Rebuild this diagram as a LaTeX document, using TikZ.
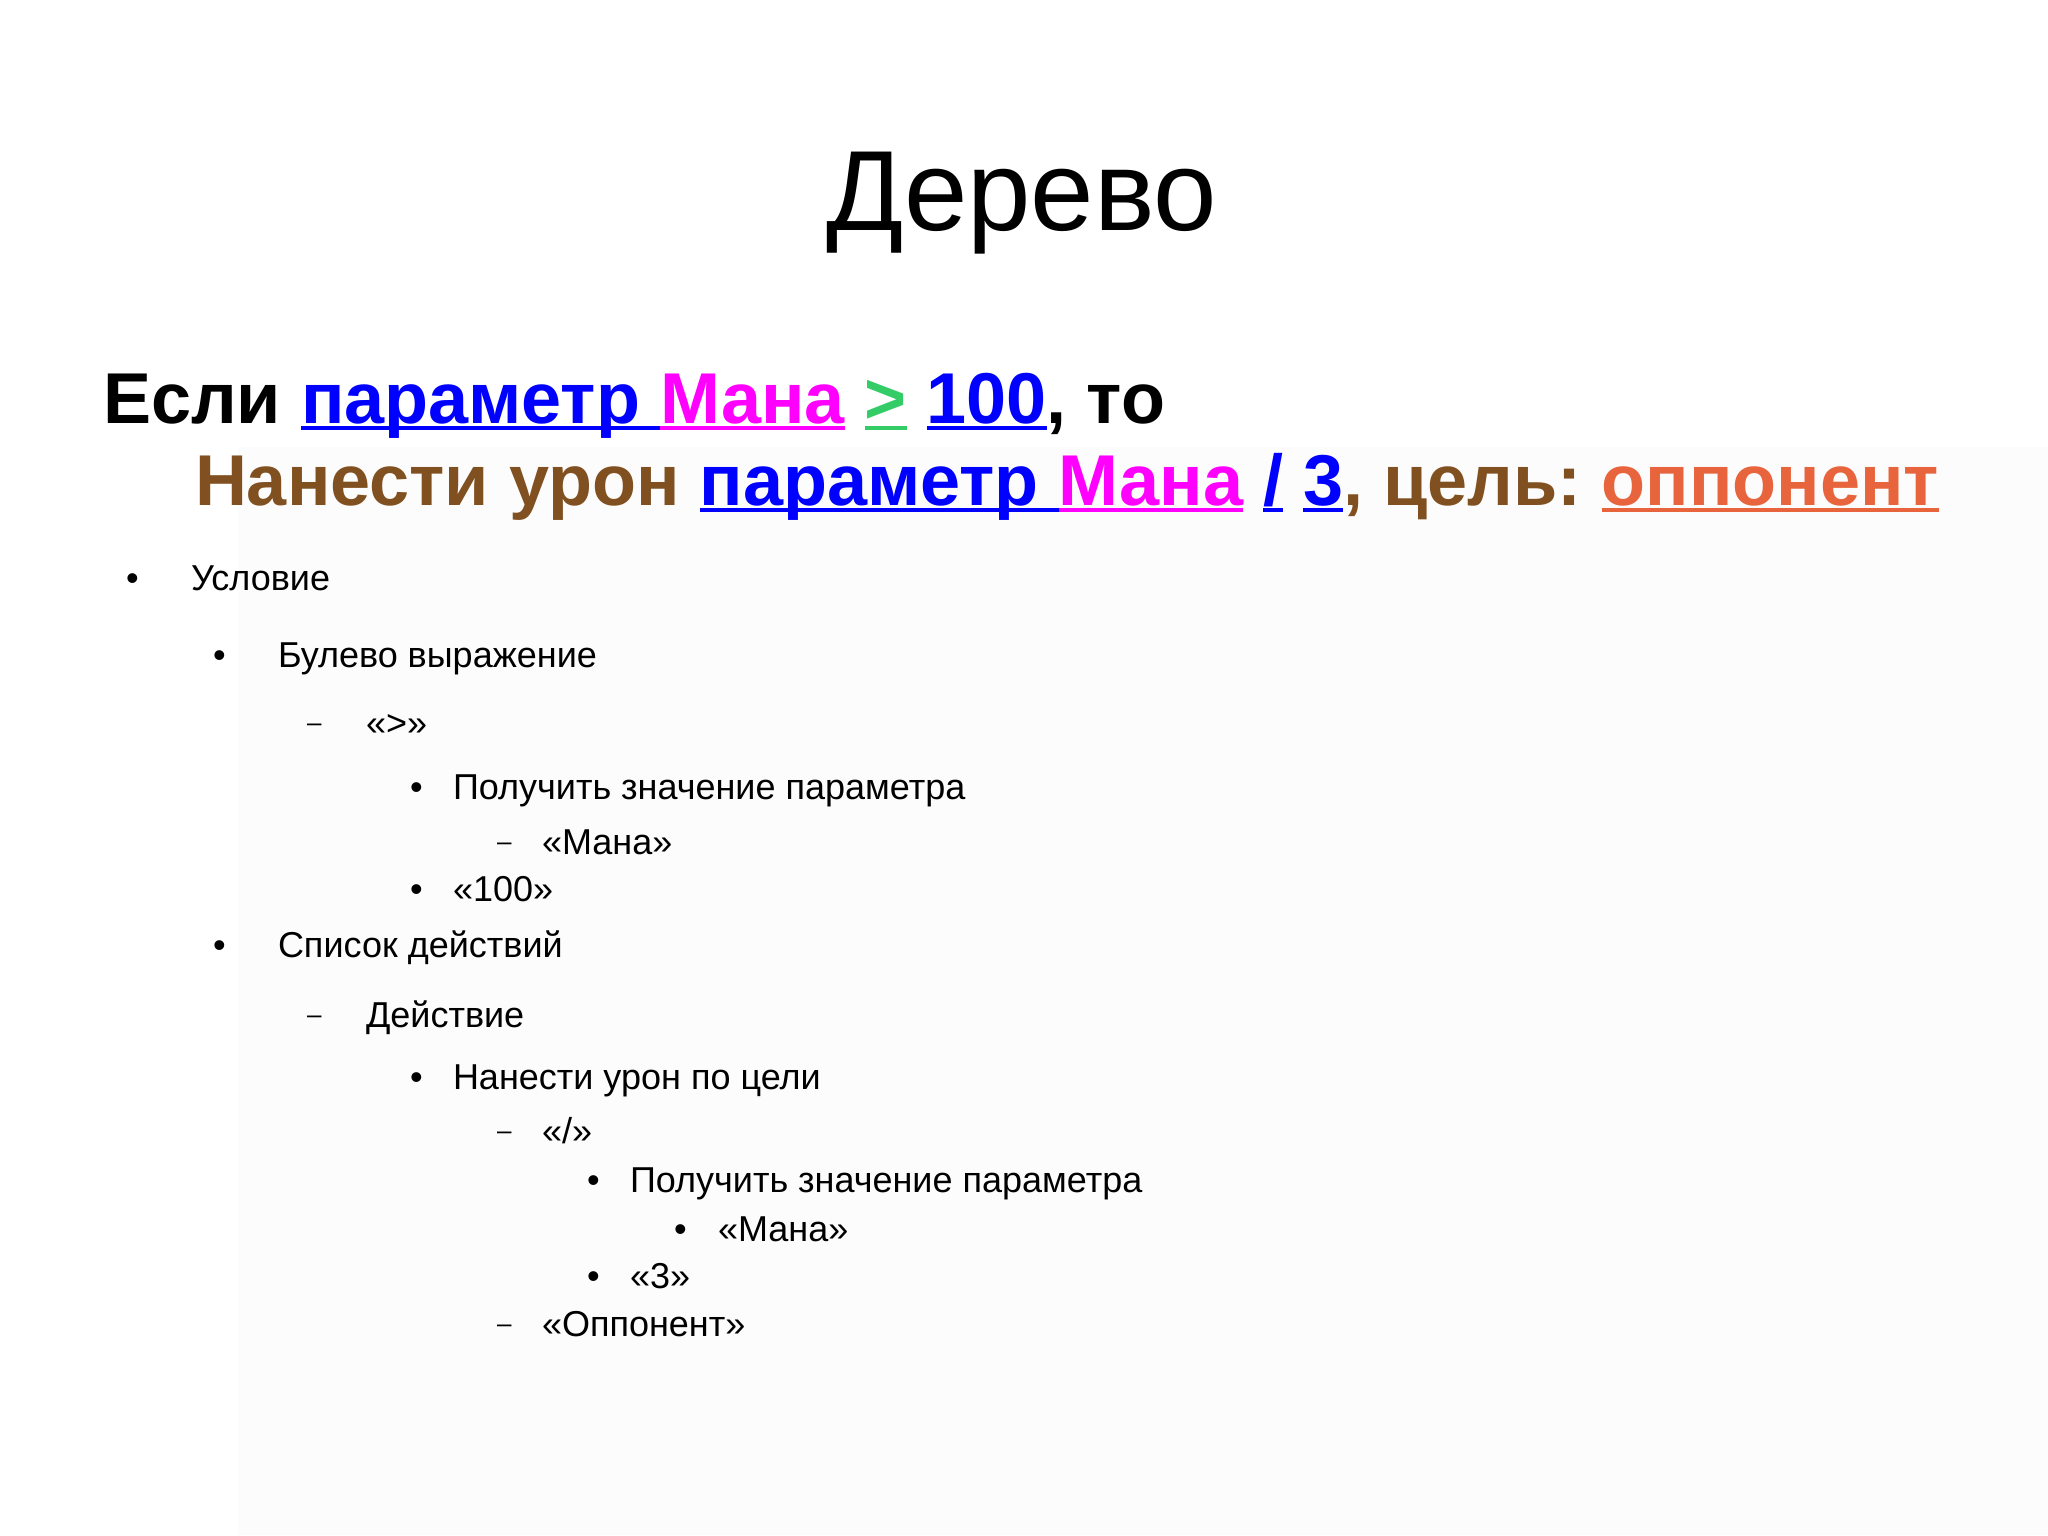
\documentclass[tikz,border=0pt]{standalone}
\usepackage{fontspec}
\setmainfont{Liberation Sans}
\frenchspacing
\definecolor{cblue}{RGB}{0,0,255}
\definecolor{cmag}{RGB}{255,0,255}
\definecolor{cgreen}{RGB}{51,204,102}
\definecolor{cbrown}{RGB}{128,80,32}
\definecolor{corange}{RGB}{232,100,60}
\definecolor{faint}{RGB}{253,252,253}
\newsavebox\ulbox
\newcommand\ulc[2]{{\sbox\ulbox{\color{#1}#2}\rlap{\color{#1}\rule[-0.1em]{\wd\ulbox}{0.06em}}\usebox\ulbox}}
\begin{document}
\begin{tikzpicture}[x=1pt,y=-1pt,
  txt/.style={anchor=base west,inner sep=0pt,outer sep=0pt},
  ttl/.style={anchor=base,inner sep=0pt,font=\fontsize{114}{120}\selectfont},
  head/.style={txt,font=\fontsize{72}{80}\selectfont\bfseries},
  itm/.style={txt,font=\fontsize{36}{42}\selectfont},
  bul/.style={txt,font=\fontsize{36}{42}\selectfont},
  dsh/.style={txt,font=\fontsize{26}{30}\selectfont}]
\useasboundingbox (0,0) rectangle (2048,1535);
\fill[white] (0,0) rectangle (2048,1535);
\fill[faint] (238,447) rectangle (2048,1535);
\node[ttl] (title) at (1022,230) {Дерево};
\node[head] (l1) at (103,423) {Если \ulc{cblue}{параметр }\ulc{cmag}{Мана} \ulc{cgreen}{>} \ulc{cblue}{100}, то};
\node[head,text=cbrown] (l2) at (195,505) {Нанести урон \ulc{cblue}{параметр }\ulc{cmag}{Мана} \ulc{cblue}{/} \ulc{cblue}{3}, цель: \ulc{corange}{оппонент}};
% list
\node[bul] (b1) at (126,590) {•};
\node[itm] (t1) at (191,590) {Условие};
\node[bul] (b2) at (213,667) {•};
\node[itm] (t2) at (278,667) {Булево выражение};
\node[dsh] (b3) at (307,731) {–};
\node[itm] (t3) at (366,735) {«>»};
\node[bul] (b4) at (410,799) {•};
\node[itm] (t4) at (453,799) {Получить значение параметра};
\node[dsh] (b5) at (497,850) {–};
\node[itm] (t5) at (542,854) {«Мана»};
\node[bul] (b6) at (410,901) {•};
\node[itm] (t6) at (453,901) {«100»};
\node[bul] (b7) at (213,957) {•};
\node[itm] (t7) at (278,957) {Список действий};
\node[dsh] (b8) at (307,1023) {–};
\node[itm] (t8) at (366,1027) {Действие};
\node[bul] (b9) at (410,1089) {•};
\node[itm] (t9) at (453,1089) {Нанести урон по цели};
\node[dsh] (b10) at (497,1139) {–};
\node[itm] (t10) at (542,1143) {«/»};
\node[bul] (b11) at (587,1192) {•};
\node[itm] (t11) at (630,1192) {Получить значение параметра};
\node[bul] (b12) at (674,1241) {•};
\node[itm] (t12) at (718,1241) {«Мана»};
\node[bul] (b13) at (587,1288) {•};
\node[itm] (t13) at (630,1288) {«3»};
\node[dsh] (b14) at (497,1332) {–};
\node[itm] (t14) at (542,1336) {«Оппонент»};
\end{tikzpicture}
\end{document}
